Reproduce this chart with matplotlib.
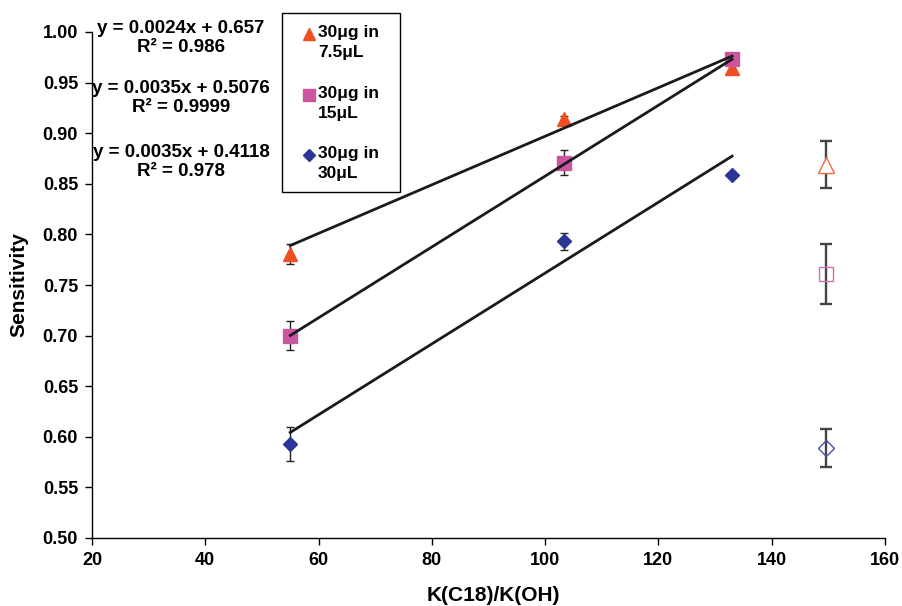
import matplotlib
matplotlib.use("Agg")
import matplotlib.pyplot as plt
from matplotlib.lines import Line2D
from matplotlib.patches import Rectangle
import numpy as np

plt.rcParams['font.family'] = ['Liberation Sans', 'DejaVu Sans']
plt.rcParams['font.weight'] = 'bold'

# Data
x_vals = [55, 103.3, 133]
tri_y = [0.781, 0.914, 0.964]
tri_err = [0.010, 0.003, 0.003]
sq_y = [0.700, 0.871, 0.973]
sq_err = [0.014, 0.012, 0.006]
dia_y = [0.593, 0.793, 0.859]
dia_err = [0.017, 0.008, 0.002]

x_open = [149.6]
tri_open_y = [0.869]
tri_open_err = [0.023]
sq_open_y = [0.761]
sq_open_err = [0.030]
dia_open_y = [0.589]
dia_open_err = [0.019]

slopes = [0.0024, 0.0035, 0.0035]
intercepts = [0.657, 0.5076, 0.4118]
eq_texts = ["y = 0.0024x + 0.657\nR² = 0.986",
            "y = 0.0035x + 0.5076\nR² = 0.9999",
            "y = 0.0035x + 0.4118\nR² = 0.978"]
legend_labels = ["30μg in\n7.5μL", "30μg in\n15μL", "30μg in\n30μL"]
x_ticks = [20, 40, 60, 80, 100, 120, 140, 160]
y_ticks = [0.50, 0.55, 0.60, 0.65, 0.70, 0.75, 0.80, 0.85, 0.90, 0.95, 1.00]

c_tri = '#F04E23'
c_sq = '#CC55A0'
c_dia = '#2B3596'

fig = plt.figure(figsize=(9.02, 6.06), dpi=100)
ax = fig.add_axes([92/902, 1-538/606, (885-92)/902, (538-32)/606])

# error bars
ekw = dict(fmt='none', ecolor='#222222', elinewidth=1.0, capsize=3, capthick=1.0, zorder=2)
ax.errorbar(x_vals, tri_y, yerr=tri_err, **ekw)
ax.errorbar(x_vals, sq_y, yerr=sq_err, **ekw)
ax.errorbar(x_vals, dia_y, yerr=dia_err, **ekw)
ekw2 = dict(fmt='none', ecolor='#444444', elinewidth=1.7, capsize=4, capthick=1.7, zorder=2)
ax.errorbar(x_open, tri_open_y, yerr=tri_open_err, **ekw2)
ax.errorbar(x_open, sq_open_y, yerr=sq_open_err, **ekw2)
ax.errorbar(x_open, dia_open_y, yerr=dia_open_err, **ekw2)

# filled markers
ax.plot(x_vals, tri_y, linestyle='none', marker='^', ms=10.5, color=c_tri, mec=c_tri, zorder=3)
ax.plot(x_vals, sq_y, linestyle='none', marker='s', ms=10, color=c_sq, mec=c_sq, zorder=3)
ax.plot(x_vals, dia_y, linestyle='none', marker='D', ms=7.5, color=c_dia, mec=c_dia, zorder=3)

# open markers
ax.plot(x_open, tri_open_y, linestyle='none', marker='^', ms=11, mfc='white', mec='#F26A45', mew=1.0, zorder=3)
ax.plot(x_open, sq_open_y, linestyle='none', marker='s', ms=10, mfc='none', mec='#D070B0', mew=1.0, zorder=3)
ax.plot(x_open, dia_open_y, linestyle='none', marker='D', ms=8, mfc='none', mec='#4450A8', mew=1.0, zorder=3)

# trendlines
xl = np.array([x_vals[0], x_vals[-1]])
for m, b in zip(slopes, intercepts):
    ax.plot(xl, m * xl + b, color='#1a1a1a', lw=2.0, zorder=4)

ax.set_xlim(20, 160)
ax.set_ylim(0.5, 1.0)
ax.set_xticks(x_ticks)
ax.set_yticks(y_ticks)
ax.set_xticklabels([str(t) for t in x_ticks])
ax.set_yticklabels([f"{t:.2f}" for t in y_ticks])
for s in ['top', 'right']:
    ax.spines[s].set_visible(False)
for s in ['left', 'bottom']:
    ax.spines[s].set_linewidth(1.0)
ax.tick_params(direction='out', length=5, width=1.0, labelsize=13, pad=5)
for lab in ax.get_xticklabels() + ax.get_yticklabels():
    lab.set_fontweight('bold')
ax.set_xlabel("K(C18)/K(OH)", fontsize=15, fontweight='bold')
ax.xaxis.set_label_coords((493-92)/793, -0.095)
ax.set_ylabel("Sensitivity", fontsize=15, fontweight='bold', labelpad=10)

# equations
eq_y = [38, 98, 162]
for t, yp in zip(eq_texts, eq_y):
    fig.text(181/902, 1 - yp/606, t, ha='center', va='center', fontsize=13.5,
             fontweight='bold', linespacing=1.2)

# custom legend box
fig.add_artist(Rectangle((282/902, 1-192/606), (400-282)/902, (192-13)/606,
                         transform=fig.transFigure, fill=False, ec='black', lw=1.0))
leg_styles = [('^', c_tri, 9), ('s', c_sq, 9), ('D', c_dia, 6.5)]
leg_y = [34, 95, 155]
for (mk, col, ms), lab, yp in zip(leg_styles, legend_labels, leg_y):
    fig.add_artist(Line2D([309/902], [1-yp/606], marker=mk, ms=ms, color=col, mec=col,
                          linestyle='none', transform=fig.transFigure))
    fig.text(318/902, 1-(yp-9)/606, lab, ha='left', va='top', fontsize=12.5,
             fontweight='bold', linespacing=1.45)

fig.savefig("out.png", dpi=100)
